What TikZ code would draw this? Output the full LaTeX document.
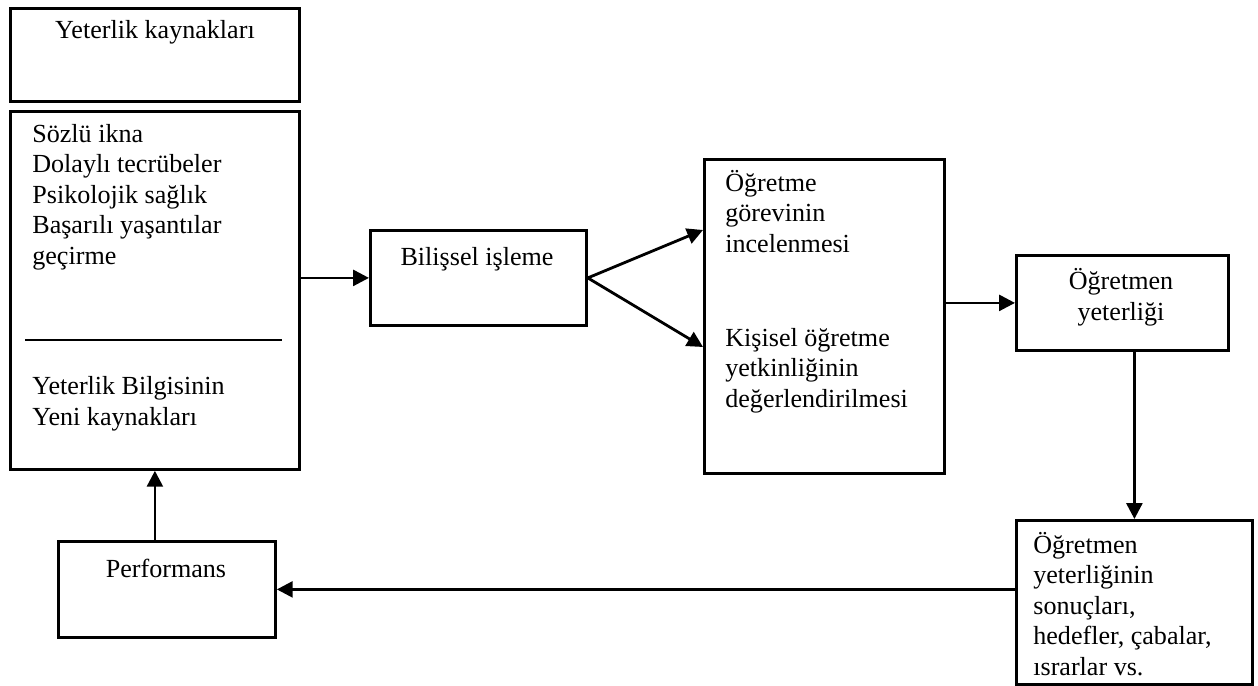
\documentclass[tikz,border=0pt]{standalone}
\usepackage{fontspec}
\setmainfont{Liberation Serif}
\usetikzlibrary{arrows.meta}
\newcommand{\px}{0.02cm}
\newcommand{\metin}{\fontsize{14.85pt}{17.3pt}\selectfont}
\tikzset{
  kutu/.style={draw, line width=1.6pt, anchor=north west, inner sep=0pt},
  yazi/.style={inner sep=0pt, align=left, font=\metin},
  ok/.style={line width=1.6pt, -{Triangle[length=9pt,width=9pt]}}
}

\begin{document}
\begin{tikzpicture}[x=0.02cm, y=-0.02cm]
  \useasboundingbox (0,0) rectangle (1258,686);
  % Boxes
  \node[kutu, minimum width=289*\px, minimum height=93*\px] (kaynak) at (9,7) {};
  \node[kutu, minimum width=289*\px, minimum height=358*\px] (bilgi) at (9,110) {};
  \node[kutu, minimum width=216*\px, minimum height=95*\px] (bilis) at (369,229) {};
  \node[kutu, minimum width=240*\px, minimum height=314*\px] (gorev) at (703,158) {};
  \node[kutu, minimum width=212*\px, minimum height=95*\px] (ogryet) at (1015,254) {};
  \node[kutu, minimum width=236*\px, minimum height=164*\px] (sonuc) at (1015,519) {};
  \node[kutu, minimum width=217*\px, minimum height=96*\px] (perf) at (57,540) {};
  % Texts (base = last line)
  \node[yazi, anchor=base] (kaynakT) at (155,39) {Yeterlik kaynakları};
  \node[yazi, anchor=base west] (bilgiT1) at (32,264) {Sözlü ikna\\Dolaylı tecrübeler\\Psikolojik sağlık\\Başarılı yaşantılar\\geçirme};
  \draw[line width=1.6pt] (25,340) -- (282,340);
  \node[yazi, anchor=base west] (bilgiT2) at (32,425) {Yeterlik Bilgisinin\\Yeni kaynakları};
  \node[yazi, anchor=base] (bilisT) at (477,265) {Bilişsel işleme};
  \node[yazi, anchor=base west] (gorevT1) at (725,252) {Öğretme\\görevinin\\incelenmesi};
  \node[yazi, anchor=base west] (gorevT2) at (725,407) {Kişisel öğretme\\yetkinliğinin\\değerlendirilmesi};
  \node[yazi, anchor=base, align=center] (ogryetT) at (1121,320) {Öğretmen\\yeterliği};
  \node[yazi, anchor=base west] (sonucT) at (1033,675) {Öğretmen\\yeterliğinin\\sonuçları,\\hedefler, çabalar,\\ısrarlar vs.};
  \node[yazi, anchor=base] (perfT) at (166,577) {Performans};
  % Arrows
  \coordinate (gorevA) at (703,230);
  \coordinate (gorevB) at (703,347);
  \draw[ok] (bilgi.east |- bilis.west) -- (bilis.west);
  \draw[ok] (bilis.east) -- (gorevA);
  \draw[ok] (bilis.east) -- (gorevB);
  \draw[ok] (gorev.east |- ogryet.west) -- (ogryet.west);
  \draw[ok] (sonuc.north |- ogryet.south) -- (sonuc.north);
  \draw[ok] (sonuc.west |- perf.east) -- (perf.east);
  \draw[ok] (bilgi.south |- perf.north) -- (bilgi.south);
\end{tikzpicture}
\end{document}
